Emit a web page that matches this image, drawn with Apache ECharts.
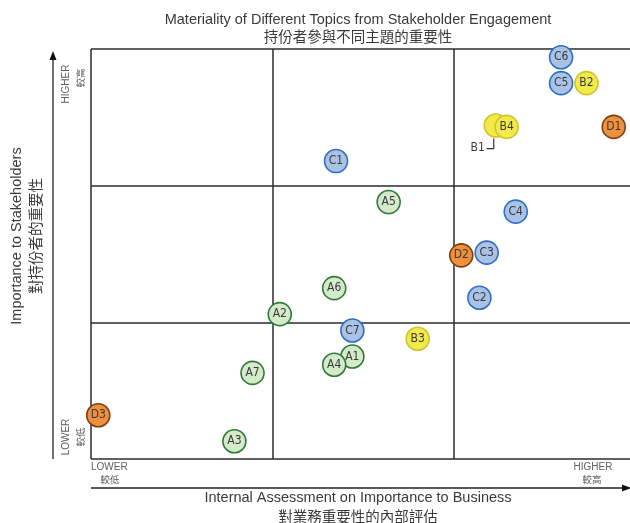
<!DOCTYPE html>
<html>
<head>
<meta charset="utf-8">
<script src="https://cdn.jsdelivr.net/npm/echarts@6/dist/echarts.min.js"></script>
<style>
html,body{margin:0;padding:0;background:#fff;}
#chart{width:630px;height:523px;}
</style>
</head>
<body>
<div id="chart"></div>
<script>
// Topic groups: labels, x (internal assessment), y (importance to stakeholders), scale 0-30
const aLabels = ['A1','A2','A3','A4','A5','A6','A7'];
const aX = [14.4, 10.4, 7.9, 13.4, 16.4, 13.4, 8.9];
const aY = [7.5, 10.6, 1.3, 6.9, 18.8, 12.5, 6.3];

const bLabels = ['B1','B2','B3','B4'];
const bX = [22.3, 27.3, 18.0, 22.9];
const bY = [24.4, 27.5, 8.8, 24.3];

const cLabels = ['C1','C2','C3','C4','C5','C6','C7'];
const cX = [13.5, 21.4, 21.8, 23.4, 25.9, 25.9, 14.4];
const cY = [21.8, 11.8, 15.1, 18.1, 27.5, 29.4, 9.4];

const dLabels = ['D1','D2','D3'];
const dX = [28.8, 20.4, 0.4];
const dY = [24.3, 14.9, 3.2];

const xTicks = [0, 10, 20, 30];
const yTicks = [0, 10, 20, 30];

const FONT = "'Liberation Sans Narrow','DejaVu Sans Condensed','Liberation Sans',sans-serif";
const TXT = '#3a3a3a';
const SUB = '#606060';

function pts(labels, xs, ys) {
  return labels.map((l, i) => ({ name: l, value: [xs[i], ys[i]] }));
}

function ser(name, labels, xs, ys, fill, border) {
  return {
    type: 'scatter',
    name: name,
    symbol: 'circle',
    symbolSize: 23,
    data: pts(labels, xs, ys),
    itemStyle: { color: fill, borderColor: border, borderWidth: 1.6, opacity: 1 },
    label: {
      show: true,
      position: 'inside',
      formatter: p => p.name === 'B1' ? '' : p.name,
      color: TXT,
      fontFamily: FONT,
      fontSize: 12
    },
    emphasis: { disabled: true },
    z: 3
  };
}

const chart = echarts.init(document.getElementById('chart'), null, { renderer: 'canvas' });

const EN = "14.5px 'Liberation Sans',sans-serif";
const ZH = "14.5px 'Noto Sans CJK TC',sans-serif";
const ENs = "10px 'Liberation Sans',sans-serif";
const ZHs = "9.5px 'Noto Sans CJK TC',sans-serif";

const option = {
  animation: false,
  backgroundColor: '#fff',
  grid: { left: 91, top: 49, width: 544.5, height: 410, containLabel: false, outerBoundsMode: 'none' },
  xAxis: {
    type: 'value', min: xTicks[0], max: xTicks[xTicks.length - 1], interval: 10,
    axisLine: { show: false }, axisTick: { show: false }, axisLabel: { show: false },
    splitLine: { show: true, lineStyle: { color: '#2b2b2b', width: 1.5 } }
  },
  yAxis: {
    type: 'value', min: yTicks[0], max: yTicks[yTicks.length - 1], interval: 10,
    axisLine: { show: false }, axisTick: { show: false }, axisLabel: { show: false },
    splitLine: { show: true, lineStyle: { color: '#2b2b2b', width: 1.5 } }
  },
  series: [
    ser('A', aLabels, aX, aY, '#d3eacb', '#2f7b35'),
    ser('B', bLabels, bX, bY, '#f1ea4a', '#cfc42a'),
    ser('C', cLabels, cX, cY, '#a9c3e7', '#2f6ec4'),
    ser('D', dLabels, dX, dY, '#ef913b', '#7d3d14')
  ],
  graphic: [
    { type: 'text', x: 358, y: 20, style: { text: 'Materiality of Different Topics from Stakeholder Engagement', font: EN, fill: TXT, align: 'center', verticalAlign: 'middle' } },
    { type: 'text', x: 358, y: 36, style: { text: '持份者參與不同主題的重要性', font: ZH, fill: TXT, align: 'center', verticalAlign: 'middle' } },
    { type: 'text', x: 358, y: 498, style: { text: 'Internal Assessment on Importance to Business', font: EN, fill: TXT, align: 'center', verticalAlign: 'middle' } },
    { type: 'text', x: 358, y: 516, style: { text: '對業務重要性的內部評估', font: ZH, fill: TXT, align: 'center', verticalAlign: 'middle' } },
    { type: 'text', x: 17, y: 236, rotation: Math.PI / 2, style: { text: 'Importance to Stakeholders', font: EN, fill: TXT, align: 'center', verticalAlign: 'middle' } },
    { type: 'text', x: 35, y: 236, rotation: Math.PI / 2, style: { text: '對持份者的重要性', font: ZH, fill: TXT, align: 'center', verticalAlign: 'middle' } },
    // y arrow
    { type: 'line', shape: { x1: 53, y1: 58, x2: 53, y2: 459 }, style: { stroke: '#222', lineWidth: 1.3 } },
    { type: 'polygon', shape: { points: [[53, 51], [49.5, 60], [56.5, 60]] }, style: { fill: '#111' } },
    // x arrow
    { type: 'line', shape: { x1: 91, y1: 488, x2: 623, y2: 488 }, style: { stroke: '#222', lineWidth: 1.3 } },
    { type: 'polygon', shape: { points: [[631, 488], [622, 484.5], [622, 491.5]] }, style: { fill: '#111' } },
    // axis end labels
    { type: 'text', x: 66, y: 84, rotation: Math.PI / 2, style: { text: 'HIGHER', font: ENs, fill: SUB, align: 'center', verticalAlign: 'middle' } },
    { type: 'text', x: 80, y: 78, rotation: Math.PI / 2, style: { text: '較高', font: ZHs, fill: SUB, align: 'center', verticalAlign: 'middle' } },
    { type: 'text', x: 66, y: 437, rotation: Math.PI / 2, style: { text: 'LOWER', font: ENs, fill: SUB, align: 'center', verticalAlign: 'middle' } },
    { type: 'text', x: 80, y: 437, rotation: Math.PI / 2, style: { text: '較低', font: ZHs, fill: SUB, align: 'center', verticalAlign: 'middle' } },
    { type: 'text', x: 91, y: 467, style: { text: 'LOWER', font: ENs, fill: SUB, align: 'left', verticalAlign: 'middle' } },
    { type: 'text', x: 110, y: 479, style: { text: '較低', font: ZHs, fill: SUB, align: 'center', verticalAlign: 'middle' } },
    { type: 'text', x: 593, y: 467, style: { text: 'HIGHER', font: ENs, fill: SUB, align: 'center', verticalAlign: 'middle' } },
    { type: 'text', x: 592, y: 479, style: { text: '較高', font: ZHs, fill: SUB, align: 'center', verticalAlign: 'middle' } }
  ]
};
chart.setOption(option);

// B1 callout, positioned from the B1 data point
const b1 = chart.convertToPixel({ gridIndex: 0 }, [bX[0], bY[0]]);
chart.setOption({
  graphic: option.graphic.concat([
    { type: 'polyline', shape: { points: [[b1[0] - 2, b1[1] + 13], [b1[0] - 2, b1[1] + 23], [b1[0] - 9, b1[1] + 23]] }, style: { stroke: '#333', lineWidth: 1.2, fill: null } },
    { type: 'text', x: b1[0] - 11, y: b1[1] + 22, style: { text: 'B1', font: "12px " + FONT, fill: TXT, align: 'right', verticalAlign: 'middle' } }
  ])
});
</script>
</body>
</html>
